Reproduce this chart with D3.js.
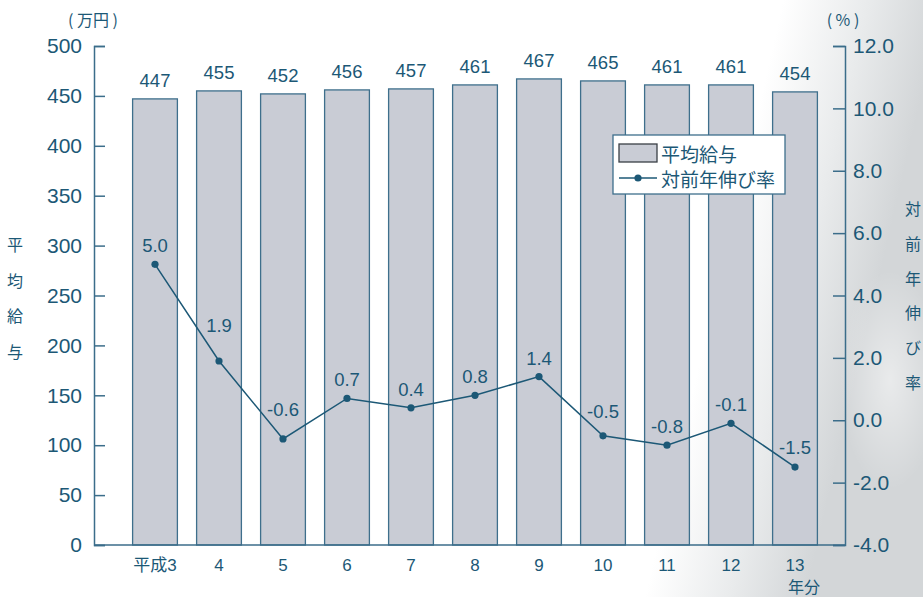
<!DOCTYPE html>
<html>
<head>
<meta charset="utf-8">
<script src="https://cdn.jsdelivr.net/npm/d3@7"></script>
<style>
  html, body { margin: 0; padding: 0; background: #fff; }
  svg { display: block; }
  text { font-family: "Liberation Sans", Arial, "Noto Sans CJK JP", sans-serif; fill: #1c5876; }
  .cjk { font-family: "Noto Sans CJK JP", "Liberation Sans", sans-serif; }
</style>
</head>
<body>
<script>
const categories = ["平成3", "4", "5", "6", "7", "8", "9", "10", "11", "12", "13"];
const salary = [447, 455, 452, 456, 457, 461, 467, 465, 461, 461, 454];
const growth = [5.0, 1.9, -0.6, 0.7, 0.4, 0.8, 1.4, -0.5, -0.8, -0.1, -1.5];
const leftTicks = [0, 50, 100, 150, 200, 250, 300, 350, 400, 450, 500];
const rightTicks = [-4, -2, 0, 2, 4, 6, 8, 10, 12];
const seriesNames = ["平均給与", "対前年伸び率"];

(function () {
const W = 923, H = 597;
const ink = "#1c5876", axisC = "#3b6d8a", barStroke = "#3e6f8c", barFill = "#c9ccd5";
const pL = 94, pR = 845, pT = 46, pB = 545;
const f1 = v => d3.format(".1f")(v).replace("\u2212", "-");

const svg = d3.select("body").append("svg").attr("width", W).attr("height", H);
const defs = svg.append("defs");
const lg = defs.append("linearGradient").attr("id", "bg").attr("x1", 0).attr("x2", 1).attr("y1", 0).attr("y2", 0.15);
lg.append("stop").attr("offset", "0.83").attr("stop-color", "#ffffff");
lg.append("stop").attr("offset", "0.92").attr("stop-color", "#e9ebec");
lg.append("stop").attr("offset", "1").attr("stop-color", "#d3d6d8");
const rg = defs.append("radialGradient").attr("id", "spot").attr("cx", 0.5).attr("cy", 0.5).attr("r", 0.5);
rg.append("stop").attr("offset", "0").attr("stop-color", "#ffffff").attr("stop-opacity", 0.5);
rg.append("stop").attr("offset", "1").attr("stop-color", "#ffffff").attr("stop-opacity", 0);
svg.append("rect").attr("width", W).attr("height", H).attr("fill", "url(#bg)");
svg.append("ellipse").attr("cx", 890).attr("cy", 380).attr("rx", 50).attr("ry", 110).attr("fill", "url(#spot)");

const x = d3.scaleBand().domain(categories).range([123, 827]).paddingInner(0.3).paddingOuter(0.15);
const yL = d3.scaleLinear().domain([0, 500]).range([pB, pT]);
const yR = d3.scaleLinear().domain([-4, 12]).range([pB, pT]);

// bars
svg.append("g").selectAll("rect").data(salary).join("rect")
  .attr("x", (d, i) => x(categories[i]))
  .attr("y", d => yL(d))
  .attr("width", x.bandwidth())
  .attr("height", d => yL(0) - yL(d))
  .attr("fill", barFill).attr("stroke", barStroke).attr("stroke-width", 1.3);

svg.append("g").selectAll("text").data(salary).join("text")
  .attr("x", (d, i) => x(categories[i]) + x.bandwidth() / 2)
  .attr("y", d => yL(d) - 12)
  .attr("text-anchor", "middle").attr("font-size", 18.5)
  .text(d => d);

// axes
const gL = svg.append("g").attr("transform", `translate(${pL},0)`)
  .call(d3.axisLeft(yL).tickValues(leftTicks).tickSizeInner(-11).tickSizeOuter(-11).tickPadding(12).tickFormat(d3.format("d")));
const gR = svg.append("g").attr("transform", `translate(${pR},0)`)
  .call(d3.axisRight(yR).tickValues(rightTicks).tickSizeInner(-12).tickSizeOuter(-12).tickPadding(8).tickFormat(f1));
[gL, gR].forEach(g => {
  g.select(".domain").attr("stroke", axisC).attr("stroke-width", 1.5);
  g.selectAll(".tick line").attr("stroke", axisC).attr("stroke-width", 1.5);
  g.selectAll(".tick text").attr("fill", ink).attr("font-size", 21)
    .attr("font-family", "'Liberation Sans', Arial, sans-serif");
});
gR.selectAll(".tick text").attr("x", 8);
gL.selectAll(".tick text").attr("x", -12);

// bottom axis
const gB = svg.append("g").attr("transform", `translate(0,${pB})`)
  .call(d3.axisBottom(x).tickSize(0).tickPadding(14));
gB.select(".domain").remove();
svg.append("line").attr("x1", pL).attr("x2", pR).attr("y1", pB).attr("y2", pB)
  .attr("stroke", axisC).attr("stroke-width", 1.5);
gB.selectAll(".tick text").attr("fill", ink).attr("font-size", 17)
  .attr("font-family", "'Liberation Sans', Arial, 'Noto Sans CJK JP', sans-serif");

// line series
const px = (d, i) => x(categories[i]) + x.bandwidth() / 2;
svg.append("path").datum(growth)
  .attr("d", d3.line().x(px).y(d => yR(d)))
  .attr("fill", "none").attr("stroke", ink).attr("stroke-width", 1.5);
svg.append("g").selectAll("circle").data(growth).join("circle")
  .attr("cx", px).attr("cy", d => yR(d)).attr("r", 3.6).attr("fill", ink);
// labels lifted further when the incoming segment drops steeply (avoid crossing the line)
svg.append("g").selectAll("text").data(growth).join("text")
  .attr("x", px)
  .attr("y", (d, i) => {
    const drop = i > 0 ? yR(d) - yR(growth[i - 1]) : 0;
    return yR(d) - 12 - Math.max(0, drop - 40) * 0.3;
  })
  .attr("text-anchor", "middle").attr("font-size", 18.5)
  .text(f1);

// unit labels
svg.append("text").attr("class", "cjk").attr("x", 93).attr("y", 26).attr("text-anchor", "middle")
  .attr("font-size", 16).style("white-space", "pre").text("( 万円 )");
svg.append("text").attr("class", "cjk").attr("x", 843).attr("y", 26).attr("text-anchor", "middle")
  .attr("font-size", 16).style("white-space", "pre").text("( % )");

// vertical axis titles
const vt = (str, cx, y0, step) => {
  svg.append("g").selectAll("text").data(Array.from(str)).join("text")
    .attr("class", "cjk").attr("x", cx).attr("y", (d, i) => y0 + i * step)
    .attr("text-anchor", "middle").attr("dominant-baseline", "central").attr("font-size", 16)
    .text(d => d);
};
vt(seriesNames[0], 15, 244, 35.5);
vt(seriesNames[1], 913, 208, 34.8);

svg.append("text").attr("class", "cjk").attr("x", 804).attr("y", 593).attr("text-anchor", "middle")
  .attr("font-size", 16).text("年分");

// legend
const lgG = svg.append("g");
lgG.append("rect").attr("x", 613).attr("y", 135).attr("width", 172).attr("height", 59)
  .attr("fill", "#fff").attr("stroke", barStroke).attr("stroke-width", 1.3);
lgG.append("rect").attr("x", 619).attr("y", 144).attr("width", 38).attr("height", 18)
  .attr("fill", barFill).attr("stroke", "#3a3f45").attr("stroke-width", 1.3);
lgG.append("line").attr("x1", 619).attr("x2", 657).attr("y1", 178).attr("y2", 178)
  .attr("stroke", ink).attr("stroke-width", 1.5);
lgG.append("circle").attr("cx", 638).attr("cy", 178).attr("r", 3.6).attr("fill", ink);
lgG.selectAll("text.lt").data(seriesNames).join("text").attr("class", "cjk lt")
  .attr("x", 661).attr("y", (d, i) => 153 + i * 25).attr("dominant-baseline", "central")
  .attr("font-size", 19).text(d => d);
})();
</script>
</body>
</html>
